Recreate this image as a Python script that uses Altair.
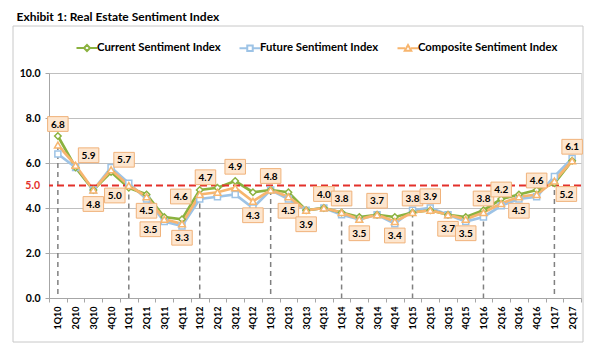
import altair as alt
import pandas as pd

# ---------------- data ----------------
quarters = ["1Q10", "2Q10", "3Q10", "4Q10", "1Q11", "2Q11", "3Q11", "4Q11",
            "1Q12", "2Q12", "3Q12", "4Q12", "1Q13", "2Q13", "3Q13", "4Q13",
            "1Q14", "2Q14", "3Q14", "4Q14", "1Q15", "2Q15", "3Q15", "4Q15",
            "1Q16", "2Q16", "3Q16", "4Q16", "1Q17", "2Q17"]
current = [7.2, 5.8, 4.8, 5.6, 4.9, 4.6, 3.6, 3.5, 4.8, 4.9, 5.2, 4.7, 4.8, 4.7, 3.9,
           4.0, 3.8, 3.6, 3.7, 3.6, 3.8, 3.9, 3.7, 3.6, 3.9, 4.4, 4.6, 4.8, 5.1, 6.1]
future = [6.4, 5.8, 4.8, 5.8, 5.1, 4.4, 3.4, 3.2, 4.4, 4.5, 4.6, 4.0, 4.8, 4.4, 3.9,
          4.0, 3.7, 3.5, 3.7, 3.3, 3.9, 4.0, 3.7, 3.4, 3.6, 4.1, 4.4, 4.5, 5.4, 6.2]
composite = [6.8, 5.9, 4.8, 5.7, 5.0, 4.5, 3.5, 3.3, 4.6, 4.7, 4.9, 4.3, 4.8, 4.5, 3.9,
             4.0, 3.8, 3.5, 3.7, 3.4, 3.8, 3.9, 3.7, 3.5, 3.8, 4.2, 4.5, 4.6, 5.2, 6.1]
series_names = ["Current Sentiment Index", "Future Sentiment Index", "Composite Sentiment Index"]
threshold = 5.0
y_ticks = [0, 2, 4, 6, 8, 10]

# ---------------- styling ----------------
GREEN = "#8BB23F"
BLUE = "#9DC3E6"
ORANGE = "#F7B56E"
RED = "#E3302B"
GRID = "#BFBFBF"
FONT = "Lato"
series_colors = [GREEN, BLUE, ORANGE]

# label placement around each composite point (presentation only)
label_place = ["a2", "ar", "b", "ar", "bl", "b", "bl", "b", "l", "al",
               "a2", "b", "a", "b", "b", "a", "a", "b", "a", "b",
               "a", "a", "b", "b", "a", "a", "b", "a", "br", "a"]
place_offsets = {"a": (0, -14), "a2": (0, -21), "b": (0, 14), "ar": (13, -10),
                 "al": (-12, -15), "bl": (-14, 10), "br": (12, 13), "l": (-19, 2)}

df = pd.DataFrame({"q": quarters, "current": current, "future": future,
                   "composite": composite, "place": label_place})

W, H = 532, 225

xenc = alt.X("q:N", sort=quarters,
             scale=alt.Scale(type="band", paddingInner=0, paddingOuter=0),
             axis=alt.Axis(title=None, labelAngle=-90, labelFont=FONT, labelFontSize=9,
                           labelFontWeight="bold", labelColor="#000", labelPadding=4,
                           tickBand="extent", tickSize=4, tickColor="#A6A6A6",
                           domainColor="#A6A6A6", grid=False))

yscale = alt.Scale(domain=[0, 10], nice=False)
yaxis = alt.Axis(title=None, values=y_ticks, format=".1f", labelFont=FONT,
                 labelFontSize=10.5, labelFontWeight="bold", labelPadding=5,
                 labelOverlap=False, labelColor="#000", gridColor=GRID,
                 tickColor="#A6A6A6", tickSize=4, domainColor="#A6A6A6", gridWidth=1)

base = alt.Chart(df)

# outer frame
frame = alt.Chart(alt.Data(values=[{"f": 1}])).mark_rect(
    fill="transparent", stroke="#C8C8C8", strokeWidth=1
).encode(x=alt.value(-36), x2=alt.value(534), y=alt.value(-47), y2=alt.value(269))

# grid / axis layer
axis_layer = base.mark_point(opacity=0).encode(
    x=xenc, y=alt.Y("composite:Q", scale=yscale, axis=yaxis))

# drop lines at each Q1
drops = base.transform_filter("substring(datum.q, 0, 2) == '1Q'").mark_rule(
    color="#808080", strokeDash=[5, 4], strokeWidth=1.5
).encode(x=alt.X("q:N", sort=quarters), y=alt.Y("composite:Q", scale=yscale),
         y2=alt.datum(0))

lines = []
points = []
for field, color, shape, size in [("future", BLUE, "square", 36),
                                  ("current", GREEN, "diamond", 42),
                                  ("composite", ORANGE, "triangle-up", 46)]:
    lines.append(base.mark_line(color=color, strokeWidth=2.7).encode(
        x=alt.X("q:N", sort=quarters), y=alt.Y(f"{field}:Q", scale=yscale)))
    points.append(base.mark_point(shape=shape, filled=True, fill="white", stroke=color,
                                  strokeWidth=1.5, size=size, opacity=1).encode(
        x=alt.X("q:N", sort=quarters), y=alt.Y(f"{field}:Q", scale=yscale)))

thr = alt.Chart(alt.Data(values=[{"t": threshold}]))
threshold_line = thr.mark_rule(
    color=RED, strokeDash=[7, 4], strokeWidth=2
).encode(y=alt.Y("t:Q", scale=yscale))
threshold_label = thr.mark_text(
    color=RED, font=FONT, fontSize=10.5, fontWeight="bold", align="right",
    baseline="middle"
).encode(y=alt.Y("t:Q", scale=yscale), x=alt.value(-9),
         text=alt.Text("t:Q", format=".1f"))

# legend (symbols carry the line stub + marker)
legend_paths = [
    "M-2.1,0H-0.6M0.6,0H2.1M0,-0.6L0.6,0L0,0.6L-0.6,0Z",
    "M-2.1,0H-0.55M0.55,0H2.1M-0.55,-0.55H0.55V0.55H-0.55Z",
    "M-2.1,0H-0.6M0.6,0H2.1M0,-0.65L0.65,0.5H-0.65Z",
]
legend_layer = alt.Chart(pd.DataFrame({"series": series_names})).mark_point(
    opacity=0, filled=False, strokeWidth=2
).encode(
    x=alt.value(0), y=alt.value(0),
    color=alt.Color("series:N", scale=alt.Scale(domain=series_names, range=series_colors),
                    legend=alt.Legend(title=None, orient="none", direction="horizontal",
                                      legendX=32, legendY=-31, symbolSize=100,
                                      symbolStrokeWidth=2, symbolFillColor="white",
                                      symbolOpacity=1, labelFont=FONT, labelFontSize=11.3,
                                      labelFontWeight="bold", labelColor="#000",
                                      labelOffset=4, columnPadding=14)),
    shape=alt.Shape("series:N", scale=alt.Scale(domain=series_names, range=legend_paths),
                    legend=alt.Legend(title=None)),
)

# data labels
label_layers = []
for key, (dx, dy) in place_offsets.items():
    sub = base.transform_filter(alt.datum.place == key)
    label_layers.append(sub.mark_point(
        shape="M-1,-0.72H1V0.72H-1Z", filled=True, fill="#FDE6CF", stroke="#F0B27A",
        strokeWidth=1, size=420, opacity=1, xOffset=dx, yOffset=dy
    ).encode(x=alt.X("q:N", sort=quarters), y=alt.Y("composite:Q", scale=yscale)))
    label_layers.append(sub.mark_text(
        font=FONT, fontSize=10, fontWeight="bold", color="#000", dx=dx, dy=dy + 0.5,
        align="center", baseline="middle"
    ).encode(x=alt.X("q:N", sort=quarters), y=alt.Y("composite:Q", scale=yscale),
             text=alt.Text("composite:Q", format=".1f")))

chart = alt.layer(
    frame, axis_layer, drops, *lines, threshold_line, threshold_label, *points,
    *label_layers, legend_layer
).properties(
    width=W, height=H,
    title=alt.TitleParams("Exhibit 1: Real Estate Sentiment Index", anchor="start",
                          font=FONT, fontSize=12, fontWeight="bold", color="#000",
                          dx=4, offset=2),
    padding={"left": 49, "top": 73, "right": 21, "bottom": 54},
    autosize=alt.AutoSizeParams(type="none"),
).configure_view(strokeWidth=0).configure(background="white")

chart.save("out.html", embed_options={"renderer": "svg", "actions": False})
